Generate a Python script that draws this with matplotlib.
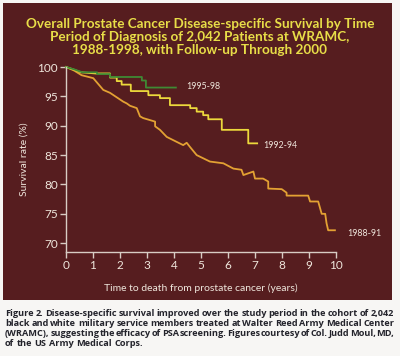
import matplotlib
matplotlib.use("Agg")
import matplotlib.pyplot as plt
from matplotlib.patches import Rectangle
from matplotlib.font_manager import FontProperties
from matplotlib.textpath import TextToPath

# ---- data ----
green_t = [0, 0.3, 0.6, 1.15, 1.15, 1.63, 1.63, 2.81, 2.81, 2.96, 2.96, 4.07]
green_v = [100, 99.6, 99.1, 99.1, 98.8, 98.8, 98.3, 98.3, 97.7, 97.7, 96.5, 96.5]

yellow_t = [0, 0.26, 0.55, 1.1, 1.63, 1.63, 1.88, 1.88, 2.06, 2.06, 2.4, 2.4, 3.05, 3.05,
            3.48, 3.48, 3.85, 3.85, 4.6, 4.6, 4.84, 4.84, 5.08, 5.08, 5.27, 5.27,
            5.77, 5.77, 6.75, 6.75, 7.08]
yellow_v = [100, 99.6, 99.1, 98.9, 98.9, 98.2, 98.2, 97.6, 97.6, 97.0, 97.0, 95.9, 95.9, 95.2,
            95.2, 94.7, 94.7, 93.5, 93.5, 93.0, 93.0, 92.4, 92.4, 91.8, 91.8, 91.1,
            91.1, 89.3, 89.3, 87.0, 87.0]

orange_t = [0, 0.3, 0.58, 1.01, 1.38, 1.63, 2.12, 2.25, 2.37, 2.62, 2.74, 2.86, 3.3, 3.3,
            3.48, 3.73, 4.34, 4.47, 4.59, 4.84, 5.33, 5.83, 6.2, 6.5, 6.57, 6.94, 7.0,
            7.3, 7.49, 7.49, 7.99, 8.17, 8.17, 8.97, 9.04, 9.34, 9.47, 9.6, 9.65, 9.71, 9.96]
orange_v = [100, 99.4, 98.6, 98.1, 96.1, 95.6, 94.1, 93.8, 93.4, 93.0, 91.6, 91.3, 90.7, 89.9,
            89.3, 88.1, 86.7, 87.1, 86.4, 85.0, 83.9, 83.6, 82.7, 82.5, 81.6, 82.2, 81.0,
            81.0, 80.5, 79.3, 79.2, 78.6, 78.1, 78.1, 77.1, 77.1, 75.0, 75.0, 73.4, 72.2, 72.2]

series_labels = ["1995-98", "1992-94", "1988-91"]
label_pos = [(4.44, 96.6), (7.3, 86.7), (10.4, 71.7)]

x_ticks = list(range(0, 11))
y_ticks = [70, 75, 80, 85, 90, 95, 100]

title = ("Overall Prostate Cancer Disease-specific Survival by Time\n"
         "Period of Diagnosis of 2,042 Patients at WRAMC,\n"
         "1988-1998, with Follow-up Through 2000")
caption_lines = [
    "Figure 2. Disease-specific survival improved over the study period in the cohort of 2,042",
    "black and white military service members treated at Walter Reed Army Medical Center",
    "(WRAMC), suggesting the efficacy of PSA screening. Figures courtesy of Col. Judd Moul, MD,",
    "of the US Army Medical Corps.",
]

W, H = 400, 356
bg = "#561d1f"
fg = "#efe6dc"
plt.rcParams["font.family"] = ["Lato", "DejaVu Sans"]

fig = plt.figure(figsize=(W / 100, H / 100), dpi=100)
fig.patch.set_facecolor("#f7f6f4")
fig.patches.append(Rectangle((3 / W, 1 - 300 / H), 389 / W, 297 / H,
                             transform=fig.transFigure, facecolor=bg, edgecolor="none", zorder=-5))

fig.text(0.5, 1 - 37 / H, title, ha="center", va="center", color="#e8de48",
         fontsize=9.7, fontweight="bold", linespacing=1.12)

ax = fig.add_axes([66 / W, 1 - 252 / H, 270 / W, 185 / H])
ax.set_zorder(2)
ax.set_facecolor("none")
ax.plot(orange_t, orange_v, color="#e3a133", lw=1.3, clip_on=False)
ax.plot(yellow_t, yellow_v, color="#ecd93c", lw=1.3, clip_on=False)
ax.plot(green_t, green_v, color="#3f8a34", lw=1.3, clip_on=False)
for lab, (tx, ty) in zip(series_labels, label_pos):
    ax.text(tx, ty, lab, color=fg, fontsize=6.4, ha="left", va="center")

ax.set_xlim(0, 10)
ax.set_ylim(68.5, 100)
ax.set_xticks(x_ticks)
ax.set_yticks(y_ticks)
for s in ["top", "right"]:
    ax.spines[s].set_visible(False)
for s in ["left", "bottom"]:
    ax.spines[s].set_color("#d8ccc4")
    ax.spines[s].set_linewidth(1.0)
ax.tick_params(colors="#d8ccc4", labelcolor=fg, labelsize=8.5, length=4, width=1, pad=2)
ax.set_ylabel("Survival rate (%)", color=fg, fontsize=7.5, labelpad=6)
ax.set_xlabel("Time to death from prostate cancer (years)", color=fg, fontsize=7.5, labelpad=9)

# justified caption, word widths measured from the glyph outlines
cap_size = 6.6
cap_font = FontProperties(family=["Open Sans", "DejaVu Sans"], weight="bold", size=cap_size)
t2p = TextToPath()


def word_width(s):
    w, _, _ = t2p.get_text_width_height_descent(s, cap_font, ismath=False)
    return w * 100 / 72 / W


x0, x1 = 5 / W, 394 / W
for i, line in enumerate(caption_lines):
    y = 1 - (316 + 10 * i) / H
    words = line.split(" ")
    widths = [word_width(w) for w in words]
    if i < len(caption_lines) - 1:
        gap = (x1 - x0 - sum(widths)) / (len(words) - 1)
    else:
        gap = 2.4 / W
    x = x0
    for w, wd in zip(words, widths):
        fig.text(x, y, w, fontproperties=cap_font, color="#23232b", ha="left", va="baseline")
        x += wd + gap

fig.savefig("out.png", dpi=100, facecolor=fig.get_facecolor())
